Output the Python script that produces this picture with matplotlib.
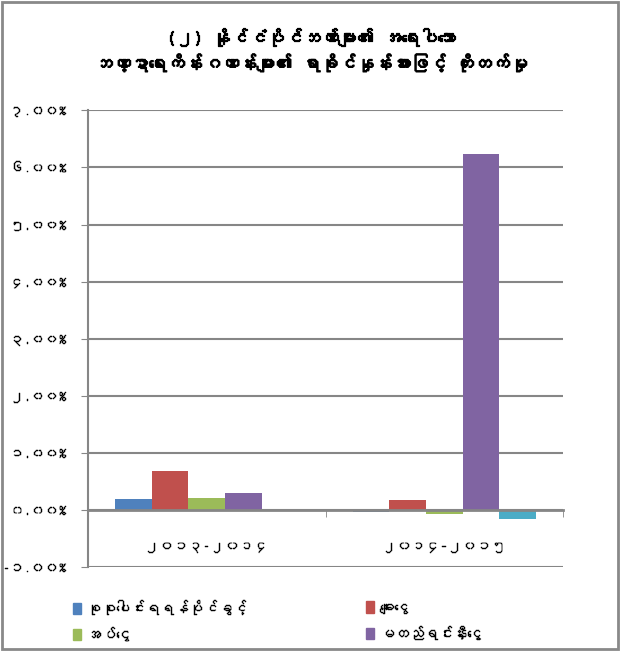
import matplotlib
matplotlib.use('Agg')
import matplotlib.pyplot as plt
import matplotlib.patheffects as pe
from matplotlib import font_manager
from matplotlib.ft2font import FT2Font
from matplotlib.patches import Patch, Rectangle
from matplotlib.ticker import FuncFormatter, MultipleLocator
import numpy as np

# data (percent change)
periods = ['၂၀၁၃-၂၀၁၄', '၂၀၁၄-၂၀၁၅']
series_names = ['စုစုပေါင်းရရန်ပိုင်ခွင့်', 'ချေးငွေ', 'အပ်ငွေ', 'မတည်ရင်းနှီးငွေ', '_nolegend_']
total_claims = [0.19, -0.03]
loans = [0.69, 0.18]
deposits = [0.21, -0.06]
capital = [0.30, 6.24]
other = [0.0, -0.15]
colors = ['#4F81BD', '#C0504D', '#9BBB59', '#8064A2', '#4BACC6']

title_lines = ['(၂) နိုင်ငံပိုင်ဘဏ်များ၏ အရေးပါသော',
               'ဘဏ္ဍာရေးကိန်းဂဏန်းများ၏ ရာခိုင်နှုန်းအားဖြင့် တိုးတက်မှု']

MM_DIGITS = str.maketrans('0123456789', '၀၁၂၃၄၅၆၇၈၉')


def find_myanmar_font():
  # look for any installed font that has the Myanmar block
  for f in font_manager.fontManager.ttflist:
    try:
      if FT2Font(f.fname).get_char_index(0x1000):
        return f.name
    except Exception:
      pass
  return None


def pct_label(v, pos):
  return ('%.2f%%' % v).translate(MM_DIGITS)


def run():
  mm_font = find_myanmar_font()
  fams = ['DejaVu Sans']
  if mm_font:
    fams = [mm_font] + fams
  plt.rcParams['font.family'] = fams

  # thin stroke to give the text a bit more weight, heavier one for the title
  light = [pe.withStroke(linewidth=0.3, foreground='black')]
  heavy = [pe.withStroke(linewidth=0.9, foreground='black')]

  fig = plt.figure(figsize=(6.21, 6.51), dpi=100)
  ax = fig.add_axes([88/621, 1 - 567.3/651, (563 - 88)/621, (567.3 - 110.3)/651])

  data = [total_claims, loans, deposits, capital, other]
  x = np.arange(len(periods))
  w = 0.154
  for i, vals in enumerate(data):
    ax.bar(x + (i - 2) * w, vals, w, color=colors[i], label=series_names[i], zorder=2)

  grey = '#868686'
  ax.set_ylim(-1, 7)
  ax.set_xlim(-0.5, 1.5)
  ax.yaxis.set_major_locator(MultipleLocator(1))
  ax.yaxis.set_major_formatter(FuncFormatter(pct_label))
  ax.yaxis.grid(True, color=grey, lw=1.5, zorder=1)
  ax.set_axisbelow(True)

  for s in ['top', 'right']:
    ax.spines[s].set_visible(False)
  ax.spines['left'].set_color(grey)
  ax.spines['left'].set_linewidth(1.5)
  ax.spines['bottom'].set_position(('data', 0))
  ax.spines['bottom'].set_color(grey)
  ax.spines['bottom'].set_linewidth(2)
  ax.spines['bottom'].set_zorder(3)

  ax.tick_params(axis='y', direction='out', length=5, color=grey, labelsize=10, pad=11)
  ax.set_xticks(x)
  ax.set_xticklabels(periods)
  ax.set_xticks([-0.5, 0.5, 1.5], minor=True)
  ax.tick_params(axis='x', which='major', length=0, labelsize=10.5, pad=22)
  ax.tick_params(axis='x', which='minor', direction='out', length=5, color=grey)
  for t in ax.get_xticklabels() + ax.get_yticklabels():
    t.set_path_effects(light)

  # title, two centred lines
  fig.text(0.5, 1 - 37/651, title_lines[0], ha='center', va='center', fontsize=13,
           fontweight='bold', path_effects=heavy)
  fig.text(0.5, 1 - 63/651, title_lines[1], ha='center', va='center', fontsize=13,
           fontweight='bold', path_effects=heavy)

  # legend in two columns, the 5th series has no entry
  cols = [[0, 2], [1, 3]]
  for xpos, idx in zip([72.7/621, 366/621], cols):
    handles = [Patch(color=colors[i]) for i in idx]
    leg = fig.legend(handles, [series_names[i] for i in idx], loc='center left',
                     bbox_to_anchor=(xpos, 1 - 621/651), frameon=False, fontsize=10.5,
                     handlelength=0.55, handleheight=0.8, handletextpad=0.4,
                     borderpad=0, borderaxespad=0, labelspacing=0.8)
    for t in leg.get_texts():
      t.set_path_effects(light)

  # grey frame round the whole chart
  fig.patches.append(Rectangle((0.003, 0.003), 0.992, 0.994, transform=fig.transFigure,
                               fill=False, ec='#898989', lw=2))

  fig.savefig('out.png', dpi=100)


run()
